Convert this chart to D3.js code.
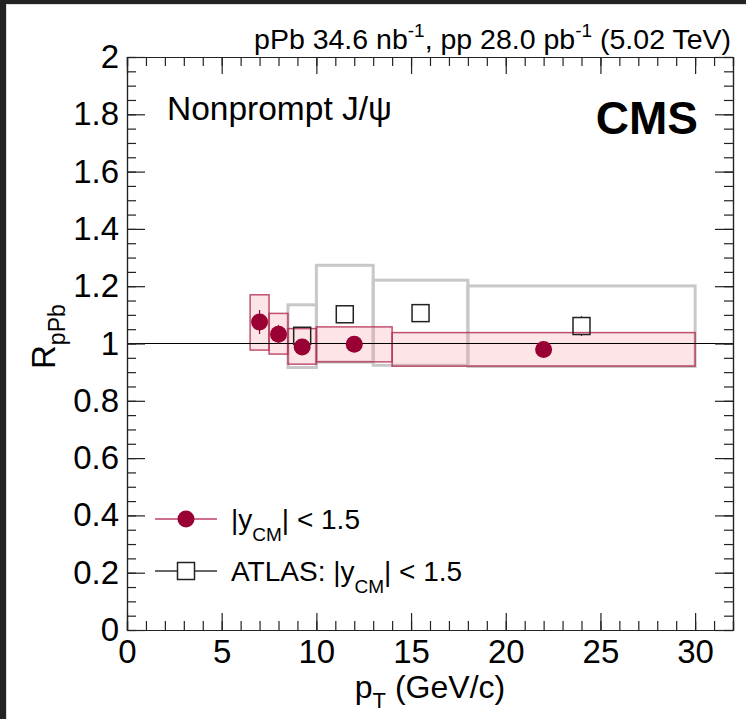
<!DOCTYPE html>
<html>
<head>
<meta charset="utf-8">
<script src="https://cdn.jsdelivr.net/npm/d3@7/dist/d3.min.js"></script>
<style>
  html, body { margin: 0; padding: 0; background: #222; }
  #wrap { position: absolute; left: 6px; top: 4px; width: 740px; height: 715px; background: #fff; border-left: 1px solid #ddd; border-top: 1px solid #ddd; box-sizing: border-box; }
  svg { position: absolute; left: -6px; top: -4px; }
  text { font-family: "Liberation Sans", Arial, Helvetica, sans-serif; fill: #000; }
</style>
</head>
<body>
<div id="wrap"></div>
<script>
// CMS nonprompt J/psi R_pPb, |y_CM| < 1.5
const cmsPt     = [7, 8, 9.25, 12, 22];
const cmsR      = [1.075, 1.032, 0.988, 0.997, 0.979];
const cmsStat   = [0.042, 0.033, 0.020, 0.015, 0.012];
const cmsBinLo  = [6.5, 7.5, 8.5, 10, 14];
const cmsBinHi  = [7.5, 8.5, 10, 14, 30];
const cmsSysLo  = [0.977, 0.963, 0.928, 0.936, 0.921];
const cmsSysHi  = [1.170, 1.105, 1.052, 1.058, 1.038];

// ATLAS nonprompt J/psi R_pPb, |y_CM| < 1.5
const atlasPt    = [9.25, 11.5, 15.5, 24];
const atlasR     = [1.027, 1.102, 1.106, 1.061];
const atlasStat  = [0.030, 0.015, 0.015, 0.034];
const atlasBinLo = [8.5, 10, 13, 18];
const atlasBinHi = [10, 13, 18, 30];
const atlasSysLo = [0.916, 0.935, 0.924, 0.920];
const atlasSysHi = [1.135, 1.273, 1.221, 1.201];

const xMajorTicks = [0, 5, 10, 15, 20, 25, 30];
const yMajorTicks = [0, 0.2, 0.4, 0.6, 0.8, 1, 1.2, 1.4, 1.6, 1.8, 2];

const W = 746, H = 719;
const L = 126, R = 732, T = 56, B = 629;

const svg = d3.select("#wrap").append("svg").attr("width", W).attr("height", H);

const x = d3.scaleLinear().domain([0, 32]).range([L, R]);
const y = d3.scaleLinear().domain([0, 2]).range([B, T]);

const crimson = "#990033";
const sq = 17;      // open-square marker size
const rad = 8.5;    // filled-circle marker radius

// ATLAS systematic boxes (outline only)
svg.append("g").selectAll("rect").data(atlasPt).join("rect")
  .attr("x", (d, i) => x(atlasBinLo[i]))
  .attr("width", (d, i) => x(atlasBinHi[i]) - x(atlasBinLo[i]))
  .attr("y", (d, i) => y(atlasSysHi[i]))
  .attr("height", (d, i) => y(atlasSysLo[i]) - y(atlasSysHi[i]))
  .attr("fill", "none").attr("stroke", "#c8c8c8").attr("stroke-width", 3);

// CMS systematic boxes
svg.append("g").selectAll("rect").data(cmsPt).join("rect")
  .attr("x", (d, i) => x(cmsBinLo[i]))
  .attr("width", (d, i) => x(cmsBinHi[i]) - x(cmsBinLo[i]))
  .attr("y", (d, i) => y(cmsSysHi[i]))
  .attr("height", (d, i) => y(cmsSysLo[i]) - y(cmsSysHi[i]))
  .attr("fill", "rgba(246,150,160,0.25)")
  .attr("stroke", "#b0284f").attr("stroke-opacity", 0.8).attr("stroke-width", 1.5);

// unity reference line
svg.append("line")
  .attr("x1", L).attr("x2", R).attr("y1", y(1)).attr("y2", y(1))
  .attr("stroke", "#000").attr("stroke-width", 1);

// stat bars stop at the marker edge
function statBars(g, pts, vals, errs, half, color) {
  pts.forEach((p, i) => {
    const cx = x(p), cy = y(vals[i]);
    const top = y(vals[i] + errs[i]), bot = y(vals[i] - errs[i]);
    if (cy - half > top)
      g.append("line").attr("x1", cx).attr("x2", cx).attr("y1", top).attr("y2", cy - half)
        .attr("stroke", color).attr("stroke-width", 1.2);
    if (bot > cy + half)
      g.append("line").attr("x1", cx).attr("x2", cx).attr("y1", cy + half).attr("y2", bot)
        .attr("stroke", color).attr("stroke-width", 1.2);
  });
}

// ATLAS points
statBars(svg.append("g"), atlasPt, atlasR, atlasStat, sq / 2, "#000");
svg.append("g").selectAll("rect").data(atlasPt).join("rect")
  .attr("x", d => x(d) - sq / 2).attr("y", (d, i) => y(atlasR[i]) - sq / 2)
  .attr("width", sq).attr("height", sq)
  .attr("fill", "none").attr("stroke", "#222").attr("stroke-width", 1.5);

// CMS points
statBars(svg.append("g"), cmsPt, cmsR, cmsStat, rad - 1, crimson);
svg.append("g").selectAll("circle").data(cmsPt).join("circle")
  .attr("cx", d => x(d)).attr("cy", (d, i) => y(cmsR[i]))
  .attr("r", rad).attr("fill", crimson);

// frame and ticks on all four sides, pointing inwards
const axStyle = g => {
  g.selectAll(".domain").attr("stroke", "#222").attr("stroke-width", 1.2);
  g.selectAll(".tick line").attr("stroke", "#222").attr("stroke-width", 1.2);
  g.selectAll("text").attr("font-size", 33).attr("font-family", "Liberation Sans, Arial, sans-serif").attr("fill", "#000");
};
const xMinor = d3.range(0, 33, 1);
const yMinor = d3.range(0, 2.001, 0.05);

svg.append("g").attr("transform", `translate(0,${B})`)
  .call(d3.axisBottom(x).tickValues(xMinor).tickSize(-9).tickFormat("")).call(axStyle);
svg.append("g").attr("transform", `translate(0,${B})`)
  .call(d3.axisBottom(x).tickValues(xMajorTicks).tickSize(-17).tickSizeOuter(0).tickPadding(9).tickFormat(d3.format("d")))
  .call(axStyle).call(g => g.selectAll("text").attr("dy", "0.72em"));
svg.append("g").attr("transform", `translate(0,${T})`)
  .call(d3.axisTop(x).tickValues(xMinor).tickSize(-9).tickFormat("")).call(axStyle);
svg.append("g").attr("transform", `translate(0,${T})`)
  .call(d3.axisTop(x).tickValues(xMajorTicks).tickSize(-17).tickSizeOuter(0).tickFormat("")).call(axStyle);

svg.append("g").attr("transform", `translate(${L},0)`)
  .call(d3.axisLeft(y).tickValues(yMinor).tickSize(-9).tickFormat("")).call(axStyle);
svg.append("g").attr("transform", `translate(${L},0)`)
  .call(d3.axisLeft(y).tickValues(yMajorTicks).tickSize(-18).tickSizeOuter(0).tickPadding(8)
    .tickFormat(d => d3.format("~g")(d)))
  .call(axStyle);
svg.append("g").attr("transform", `translate(${R},0)`)
  .call(d3.axisRight(y).tickValues(yMinor).tickSize(-9).tickFormat("")).call(axStyle);
svg.append("g").attr("transform", `translate(${R},0)`)
  .call(d3.axisRight(y).tickValues(yMajorTicks).tickSize(-18).tickSizeOuter(0).tickFormat("")).call(axStyle);

// axis titles
const xt = svg.append("text").attr("x", (L + R) / 2).attr("y", 697)
  .attr("text-anchor", "middle").attr("font-size", 32);
xt.append("tspan").text("p");
xt.append("tspan").attr("font-size", 22).attr("dy", 10).text("T");
xt.append("tspan").attr("dy", -10).text(" (GeV/c)");

const yt = svg.append("text").attr("transform", "translate(54,368) rotate(-90)")
  .attr("text-anchor", "start").attr("font-size", 33);
yt.append("tspan").text("R");
yt.append("tspan").attr("font-size", 23).attr("dy", 10).text("pPb");

// labels
const lumi = svg.append("text").attr("x", 730).attr("y", 48).attr("text-anchor", "end").attr("font-size", 28.5);
lumi.append("tspan").text("pPb 34.6 nb");
lumi.append("tspan").attr("font-size", 19).attr("dy", -12).text("-1");
lumi.append("tspan").attr("dy", 12).text(", pp 28.0 pb");
lumi.append("tspan").attr("font-size", 19).attr("dy", -12).text("-1");
lumi.append("tspan").attr("dy", 12).text(" (5.02 TeV)");

svg.append("text").attr("x", 166).attr("y", 119).attr("font-size", 33.5).text("Nonprompt J/ψ");
svg.append("text").attr("x", 697).attr("y", 133).attr("text-anchor", "end")
  .attr("font-size", 46).attr("font-weight", "bold").text("CMS");

// legend
const legX1 = 154, legX2 = 216, legMid = 185, legText = 230;
const legY = [518, 570];
svg.append("line").attr("x1", legX1).attr("x2", legX2).attr("y1", legY[0]).attr("y2", legY[0])
  .attr("stroke", "#c0406a").attr("stroke-width", 1.5);
svg.append("circle").attr("cx", legMid).attr("cy", legY[0]).attr("r", rad).attr("fill", crimson);
svg.append("line").attr("x1", legX1).attr("x2", legMid - sq / 2).attr("y1", legY[1]).attr("y2", legY[1])
  .attr("stroke", "#000").attr("stroke-width", 1.2);
svg.append("line").attr("x1", legMid + sq / 2).attr("x2", legX2).attr("y1", legY[1]).attr("y2", legY[1])
  .attr("stroke", "#000").attr("stroke-width", 1.2);
svg.append("rect").attr("x", legMid - sq / 2).attr("y", legY[1] - sq / 2).attr("width", sq).attr("height", sq)
  .attr("fill", "none").attr("stroke", "#222").attr("stroke-width", 1.5);

const legLabels = [["", "|y", "CM", "| < 1.5"], ["ATLAS: ", "|y", "CM", "| < 1.5"]];
legLabels.forEach((parts, i) => {
  const t = svg.append("text").attr("x", legText).attr("y", legY[i] + 10).attr("font-size", 28);
  t.append("tspan").text(parts[0] + parts[1]);
  t.append("tspan").attr("font-size", 19).attr("dy", 12).text(parts[2]);
  t.append("tspan").attr("dy", -12).text(parts[3]);
});
</script>
</body>
</html>
